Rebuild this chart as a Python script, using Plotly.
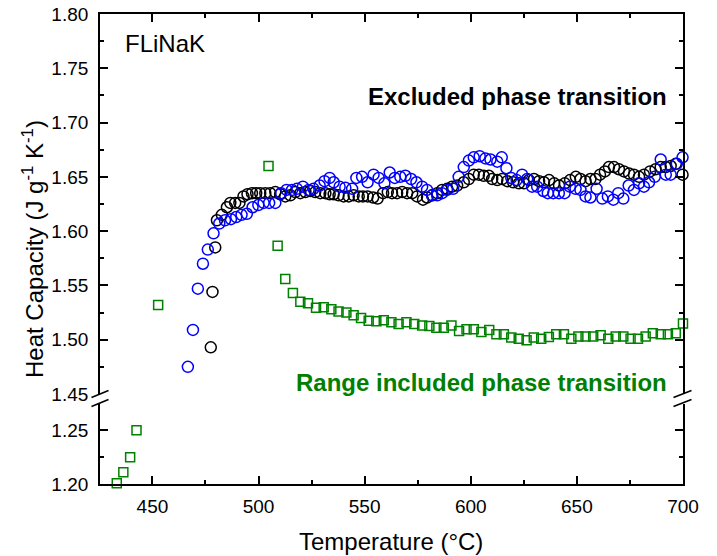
import plotly.graph_objects as go

# ---------------- data ----------------
black_T = [477.5, 478.3, 479.6, 480.4, 482.7, 485.1, 486.7, 489.0, 491.0, 492.9,
           494.8, 496.9, 498.9, 500.8, 503.2, 505.5, 507.9, 510.2, 512.6, 515.0,
           517.3, 519.7, 522.1, 524.4, 526.7, 529.1, 531.5, 533.5, 535.4, 537.7,
           540.1, 542.5, 544.8, 547.2, 549.2, 551.4, 554.0, 556.1, 558.7, 560.9,
           562.9, 565.3, 567.7, 570.0, 572.4, 574.7, 577.5, 579.4, 581.8, 584.2,
           586.5, 588.9, 591.2, 593.6, 596.7, 599.1, 601.4, 603.8, 606.1, 608.5,
           610.1, 612.5, 614.8, 617.2, 620.0, 622.7, 625.1, 627.4, 629.8, 632.2,
           634.5, 636.9, 639.3, 641.6, 644.3, 646.8, 649.5, 651.7, 654.1, 656.4,
           658.8, 660.9, 663.2, 665.1, 667.5, 669.8, 672.2, 674.6, 676.9, 679.3,
           681.6, 684.5, 687.1, 689.5, 691.9, 694.2, 696.6, 699.8]
black_cp = [1.493, 1.544, 1.585, 1.610, 1.615, 1.622, 1.626, 1.626, 1.626, 1.632,
            1.634, 1.635, 1.635, 1.635, 1.635, 1.635, 1.636, 1.634, 1.632, 1.633,
            1.636, 1.635, 1.636, 1.637, 1.636, 1.635, 1.635, 1.634, 1.634, 1.633,
            1.632, 1.632, 1.633, 1.632, 1.632, 1.632, 1.631, 1.630, 1.635, 1.636,
            1.635, 1.635, 1.636, 1.635, 1.635, 1.632, 1.629, 1.631, 1.633, 1.635,
            1.638, 1.639, 1.641, 1.642, 1.645, 1.648, 1.652, 1.652, 1.651, 1.651,
            1.648, 1.647, 1.648, 1.646, 1.645, 1.644, 1.644, 1.647, 1.648, 1.646,
            1.645, 1.647, 1.644, 1.642, 1.644, 1.647, 1.650, 1.648, 1.646, 1.648,
            1.648, 1.652, 1.655, 1.659, 1.659, 1.657, 1.655, 1.653, 1.652, 1.650,
            1.652, 1.655, 1.657, 1.659, 1.659, 1.660, 1.662, 1.652]

blue_T = [466.7, 469.1, 471.4, 473.8, 476.1, 478.8, 481.5, 484.2, 487.0, 489.5,
          492.0, 494.5, 497.2, 499.9, 502.4, 505.0, 507.9, 510.6, 513.2, 515.8,
          518.1, 520.9, 523.6, 525.9, 528.8, 531.1, 533.5, 535.4, 538.2, 540.9,
          544.1, 546.1, 548.8, 551.4, 554.2, 556.6, 559.3, 561.8, 564.2, 566.8,
          569.2, 571.9, 574.4, 577.1, 579.4, 581.8, 584.2, 586.5, 588.9, 591.7,
          594.3, 596.7, 599.1, 601.4, 604.2, 606.9, 609.3, 612.5, 614.6, 616.8,
          619.1, 621.6, 624.2, 626.6, 628.9, 631.3, 634.2, 636.3, 638.9, 641.5,
          644.2, 646.7, 649.4, 651.7, 654.1, 656.4, 659.3, 662.0, 664.6, 667.2,
          669.5, 671.9, 674.4, 676.9, 679.3, 681.6, 684.0, 686.7, 689.5, 691.9,
          694.2, 697.1, 699.8]
blue_cp = [1.475, 1.509, 1.547, 1.570, 1.583, 1.598, 1.607, 1.610, 1.611, 1.613,
           1.615, 1.616, 1.622, 1.624, 1.626, 1.626, 1.626, 1.635, 1.638, 1.638,
           1.639, 1.641, 1.638, 1.639, 1.642, 1.646, 1.649, 1.645, 1.641, 1.640,
           1.639, 1.649, 1.650, 1.645, 1.652, 1.649, 1.644, 1.654, 1.649, 1.650,
           1.651, 1.648, 1.645, 1.641, 1.638, 1.633, 1.633, 1.635, 1.638, 1.639,
           1.650, 1.659, 1.665, 1.668, 1.669, 1.667, 1.666, 1.664, 1.668, 1.658,
           1.649, 1.647, 1.652, 1.648, 1.641, 1.641, 1.637, 1.635, 1.635, 1.635,
           1.635, 1.641, 1.639, 1.638, 1.632, 1.631, 1.639, 1.630, 1.632, 1.629,
           1.635, 1.630, 1.642, 1.638, 1.644, 1.641, 1.645, 1.650, 1.666, 1.652,
           1.652, 1.662, 1.668]

green_T = [433.2, 436.3, 439.5, 442.5, 452.7, 504.7, 509.0, 512.6, 516.2, 519.7,
           523.3, 527.1, 530.7, 534.3, 537.7, 541.4, 544.8, 548.3, 551.9, 555.5,
           559.0, 562.6, 566.0, 569.7, 573.4, 577.1, 580.5, 583.8, 587.3, 590.9,
           594.5, 598.0, 601.4, 605.0, 608.7, 612.1, 615.6, 619.1, 622.6, 626.3,
           629.7, 633.2, 636.8, 640.3, 643.9, 647.4, 650.7, 654.1, 657.7, 661.2,
           664.8, 668.3, 671.9, 675.3, 678.8, 682.4, 685.8, 689.5, 692.9, 696.6,
           700.0]
green_cp = [1.2006, 1.211, 1.225, 1.250, 1.532, 1.660, 1.5865, 1.556, 1.543, 1.535,
            1.5335, 1.5295, 1.530, 1.528, 1.526, 1.525, 1.5225, 1.520, 1.5175, 1.517,
            1.518, 1.516, 1.5145, 1.516, 1.5145, 1.513, 1.5126, 1.511, 1.511, 1.513,
            1.508, 1.5096, 1.5096, 1.507, 1.509, 1.505, 1.505, 1.502, 1.501, 1.4995,
            1.502, 1.501, 1.5025, 1.505, 1.505, 1.501, 1.503, 1.503, 1.503, 1.504,
            1.501, 1.503, 1.503, 1.501, 1.501, 1.503, 1.506, 1.505, 1.505, 1.506,
            1.515]

x_range = [425.3, 700.01]
upper_range = [1.45, 1.80]
lower_range = [1.20, 1.2745]
break_value = 1.35  # values below go to the lower segment

FONT = "Liberation Sans, Arial, sans-serif"
GREEN = "#008000"
BLUE = "#0000ff"

# ---------------- figure ----------------
W, H = 717, 556
ML, MR, MT, MB = 100, 34, 14, 72
PW, PH = W - ML - MR, H - MT - MB

def px_x(p):
    return (p - ML) / PW

def px_y(p):
    return (H - MB - p) / PH

up_dom = [px_y(394), 1.0]
lo_dom = [0.0, px_y(404)]

fig = go.Figure()

fig.add_trace(go.Scatter(
    x=black_T, y=black_cp, xaxis="x2", yaxis="y", mode="markers",
    marker=dict(symbol="circle-open", size=11, color="black", line=dict(width=1.5)),
    cliponaxis=False, showlegend=False, hoverinfo="skip"))
fig.add_trace(go.Scatter(
    x=blue_T, y=blue_cp, xaxis="x2", yaxis="y", mode="markers",
    marker=dict(symbol="circle-open", size=11, color=BLUE, line=dict(width=1.5)),
    cliponaxis=False, showlegend=False, hoverinfo="skip"))

gu_T = [t for t, c in zip(green_T, green_cp) if c >= break_value]
gu_c = [c for c in green_cp if c >= break_value]
gl_T = [t for t, c in zip(green_T, green_cp) if c < break_value]
gl_c = [c for c in green_cp if c < break_value]

fig.add_trace(go.Scatter(
    x=gu_T, y=gu_c, xaxis="x2", yaxis="y", mode="markers",
    marker=dict(symbol="square-open", size=9, color=GREEN, line=dict(width=1.5)),
    cliponaxis=False, showlegend=False, hoverinfo="skip"))
fig.add_trace(go.Scatter(
    x=gl_T, y=gl_c, xaxis="x", yaxis="y2", mode="markers",
    marker=dict(symbol="square-open", size=9, color=GREEN, line=dict(width=1.5)),
    cliponaxis=False, showlegend=False, hoverinfo="skip"))

minor = dict(ticklen=4, ticks="inside", tickcolor="black", tickwidth=1.5)
common_axis = dict(
    showline=True, linecolor="black", linewidth=1.8,
    ticks="inside", tickcolor="black", tickwidth=1.5, ticklen=8,
    showgrid=False, zeroline=False, automargin=False,
    tickfont=dict(family=FONT, size=19, color="black"),
)

fig.update_layout(
    template="none",
    width=W, height=H,
    margin=dict(l=ML, r=MR, t=MT, b=MB, autoexpand=False),
    paper_bgcolor="white", plot_bgcolor="white",
    font=dict(family=FONT, color="black"),
    xaxis=dict(range=x_range, domain=[0, 1], anchor="y2", side="bottom",
               dtick=50, tick0=0, ticklabelstandoff=4,
               minor=dict(dtick=25, **minor), **common_axis),
    xaxis2=dict(range=x_range, domain=[0, 1], anchor="y", side="top",
                dtick=50, tick0=0, showticklabels=False,
                minor=dict(dtick=25, **minor), **common_axis),
    yaxis=dict(range=upper_range, domain=up_dom, anchor="x2",
               dtick=0.05, tick0=0, tickformat=".2f", mirror="ticks",
               ticklabelstandoff=6,
               minor=dict(dtick=0.025, **minor), **common_axis),
    yaxis2=dict(range=lower_range, domain=lo_dom, anchor="x",
                dtick=0.05, tick0=0, tickformat=".2f", mirror="ticks",
                ticklabelstandoff=6,
                minor=dict(dtick=0.025, **minor), **common_axis),
)

# axis break marks (//) on both sides
shapes = []
for xa, xb in [(91.5, 108.5), (673.5, 691.5)]:
    for ya, yb in [(397.5, 390.5), (406.5, 399.5)]:
        shapes.append(dict(type="line", xref="paper", yref="paper",
                           x0=px_x(xa), y0=px_y(ya), x1=px_x(xb), y1=px_y(yb),
                           line=dict(color="black", width=1.5)))
fig.update_layout(shapes=shapes)

annotations = [
    dict(text="FLiNaK", xref="paper", yref="paper", x=px_x(123), y=px_y(43),
         xanchor="left", yanchor="middle", showarrow=False,
         font=dict(family=FONT, size=24, color="black")),
    dict(text="<b>Excluded phase transition</b>", xref="paper", yref="paper",
         x=px_x(669), y=px_y(96), xanchor="right", yanchor="middle", showarrow=False,
         font=dict(family=FONT, size=24, color="black")),
    dict(text="<b>Range included phase transition</b>", xref="paper", yref="paper",
         x=px_x(669), y=px_y(382), xanchor="right", yanchor="middle", showarrow=False,
         font=dict(family=FONT, size=24, color=GREEN)),
    dict(text="Temperature (°C)", xref="paper", yref="paper",
         x=px_x(391), y=px_y(541), xanchor="center", yanchor="middle", showarrow=False,
         font=dict(family=FONT, size=24, color="black")),
    dict(text="Heat Capacity (J g<sup>-1</sup> K<sup>-1</sup>)", xref="paper", yref="paper",
         x=px_x(33), y=px_y(249), xanchor="center", yanchor="middle", showarrow=False,
         textangle=-90, font=dict(family=FONT, size=24, color="black")),
]
fig.update_layout(annotations=annotations)

fig.write_html("out.html", config={"displayModeBar": False},
               post_script="document.body.style.margin='0';document.body.style.padding='0';")
